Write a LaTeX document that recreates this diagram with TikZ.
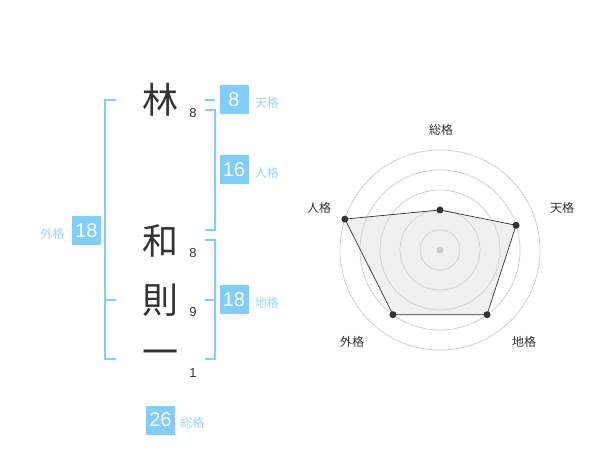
\documentclass[tikz,border=0pt]{standalone}
\usepackage{fontspec}
\setmainfont{Liberation Sans}
\newfontfamily\jp{Noto Sans CJK JP}
\usetikzlibrary{positioning, calc}

\definecolor{kakublue}{HTML}{80CDFF}
\definecolor{kakulabel}{HTML}{99D6FF}
\definecolor{inkgray}{HTML}{333333}
\definecolor{ringgray}{HTML}{CCCCCC}
\definecolor{areagray}{HTML}{F0F0F0}

\begin{document}
\begin{tikzpicture}[x=1pt,y=-1pt,
  kanji/.style={text=inkgray, inner sep=0pt, font=\jp\fontsize{36}{36}\selectfont},
  strokes/.style={text=inkgray, inner sep=0pt, font=\fontsize{13}{13}\selectfont},
  valbox/.style={fill=kakublue, text=white, minimum width=29pt, minimum height=29pt, inner sep=0pt, font=\fontsize{20}{20}\selectfont},
  kakuname/.style={text=kakulabel, inner sep=0pt, font=\jp\fontsize{12}{12}\selectfont},
  axisname/.style={text=inkgray, inner sep=0pt, font=\jp\fontsize{12}{12}\selectfont},
  bracket/.style={draw=kakublue, line width=2pt}]

\useasboundingbox[fill=white] (0,0) rectangle (600,470);

% name and stroke counts
\node[kanji] (c1) at (160,100) {林};
\node[kanji] (c2) at (160,241) {和};
\node[kanji] (c3) at (160,300) {則};
\node[kanji] (c4) at (160,358) {一};

\node[strokes] (n1) at (193,113) {8};
\node[strokes] (n2) at (193,253) {8};
\node[strokes] (n3) at (193,312) {9};
\node[strokes] (n4) at (193,373) {1};

% brackets
\draw[bracket] (116,100) -- (105,100) -- (105,359) -- (116,359);
\draw[bracket] (105,300) -- (116,300);
\draw[bracket] (205,100) -- (215,100);
\draw[bracket] (205,110) -- (215,110) -- (215,230) -- (205,230);
\draw[bracket] (205,240) -- (215,240) -- (215,359) -- (205,359);
\draw[bracket] (205,300) -- (215,300);

% values
\node[valbox] (ten) at (234,100) {8};
\node[valbox] (jin) at (234,170) {16};
\node[valbox] (chi) at (234,300) {18};
\node[valbox] (gai) at (86.5,230.5) {18};
\node[valbox] (sou) at (160.5,420) {26};

\node[kakuname, anchor=west] (tenl) at ($(ten.east)+(6,3)$) {天格};
\node[kakuname, anchor=west] (jinl) at ($(jin.east)+(6,3)$) {人格};
\node[kakuname, anchor=west] (chil) at ($(chi.east)+(6,3)$) {地格};
\node[kakuname, anchor=east] (gail) at ($(gai.west)+(-7,3)$) {外格};
\node[kakuname, anchor=west] (soul) at ($(sou.east)+(5,3)$) {総格};

% radar
\begin{scope}[shift={(440,250)}, y=1pt]
\coordinate (rsou) at (90:40);
\coordinate (rten) at (18:80);
\coordinate (rchi) at (-54:80);
\coordinate (rgai) at (-126:80);
\coordinate (rjin) at (162:100);

\fill[areagray] (rsou) -- (rten) -- (rchi) -- (rgai) -- (rjin) -- cycle;
\foreach \r in {20,40,...,100}
  \draw[ringgray, line width=0.7pt] (0,0) circle (\r);
\draw[inkgray, line width=0.7pt] (rsou) -- (rten) -- (rchi) -- (rgai) -- (rjin) -- cycle;

\fill[ringgray] (0,0) circle (3.5);
\foreach \p in {rsou,rten,rchi,rgai,rjin}
  \fill[inkgray] (\p) circle (3.5);

\node[axisname] (asou) at (1,120) {総格};
\node[axisname] (aten) at (122,42) {天格};
\node[axisname] (achi) at (84,-92) {地格};
\node[axisname] (agai) at (-88,-92) {外格};
\node[axisname] (ajin) at (-121,42) {人格};
\end{scope}

\end{tikzpicture}
\end{document}
